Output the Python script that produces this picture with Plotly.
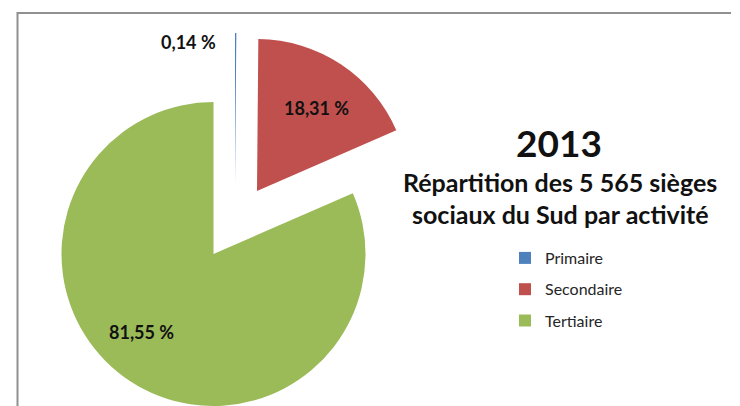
import plotly.graph_objects as go

# ---- data ----
categories = ["Primaire", "Secondaire", "Tertiaire"]
values = [0.14, 18.31, 81.55]
colors = ["#4F81BD", "#C0504D", "#9BBB59"]
title_year = "2013"
title_lines = ["Répartition des 5 565 sièges", "sociaux du Sud par activité"]

# page body has an 8px margin; figure sized so it fits the 740x406 window
OFF = 8
W, H = 740 - OFF, 406 - OFF
R = 152
# exploded slice centres (window px): Primaire, Secondaire, Tertiaire
centres = [(235, 185), (257, 191), (213.5, 254)]
# label centres (window px)
label_pos = [(188, 42), (316, 108), (141, 332)]


def px(x):
    return (x - OFF) / W


def py(y):
    return 1 - (y - OFF) / H


def domain(cx, cy, r):
    return dict(x=[px(cx - r), px(cx + r)], y=[py(cy + r), py(cy - r)])


def fmt(v):
    return f"{v:.2f} %".replace(".", ",")


fig = go.Figure()

# visible slices: one trace per slice so each can be exploded independently
for i in range(len(categories)):
    cols = [c if j == i else "rgba(0,0,0,0)" for j, c in enumerate(colors)]
    fig.add_trace(go.Pie(
        labels=categories, values=values, sort=False, direction="clockwise",
        rotation=0, marker=dict(colors=cols, line=dict(width=0)),
        textinfo="none", hoverinfo="skip", showlegend=False,
        domain=domain(*centres[i], R)))

# legend entries
for i in range(len(categories)):
    fig.add_trace(go.Pie(
        labels=[categories[i]], values=[values[i]], sort=False,
        marker=dict(colors=[colors[i]], line=dict(width=0)),
        textinfo="none", hoverinfo="skip", showlegend=True,
        legendgroup="g" + str(i),
        domain=dict(x=[0.9995, 1.0], y=[0.0, 0.0005])))

annotations = []
for i, v in enumerate(values):
    x, y = label_pos[i]
    annotations.append(dict(
        x=px(x), y=py(y), xref="paper", yref="paper",
        text=fmt(v), showarrow=False, xanchor="center", yanchor="middle",
        font=dict(family="Lato", size=18, color="#111111", weight="bold")))

annotations.append(dict(
    x=px(559), y=py(142), xref="paper", yref="paper", text=title_year,
    showarrow=False, xanchor="center", yanchor="middle",
    font=dict(family="Lato", size=37, color="#111111", weight="bold")))
for line, yy in zip(title_lines, [182, 214]):
    annotations.append(dict(
        x=px(560), y=py(yy), xref="paper", yref="paper", text=line,
        showarrow=False, xanchor="center", yanchor="middle",
        font=dict(family="Lato", size=25, color="#111111", weight="bold")))

shapes = [
    dict(type="line", xref="paper", yref="paper",
         x0=px(17.5), x1=px(731), y0=py(13), y1=py(13),
         line=dict(color="#909090", width=2)),
    dict(type="line", xref="paper", yref="paper",
         x0=px(17.5), x1=px(17.5), y0=py(12), y1=0,
         line=dict(color="#909090", width=2)),
]

fig.update_layout(
    width=W, height=H, margin=dict(l=0, r=0, t=0, b=0),
    paper_bgcolor="white", plot_bgcolor="white",
    annotations=annotations, shapes=shapes,
    legend=dict(x=px(505), y=py(241), xanchor="left", yanchor="top",
                font=dict(family="Lato", size=16, color="#262626"),
                tracegroupgap=7.5, traceorder="grouped",
                bgcolor="rgba(0,0,0,0)"),
)

fig.write_html("out.html")
